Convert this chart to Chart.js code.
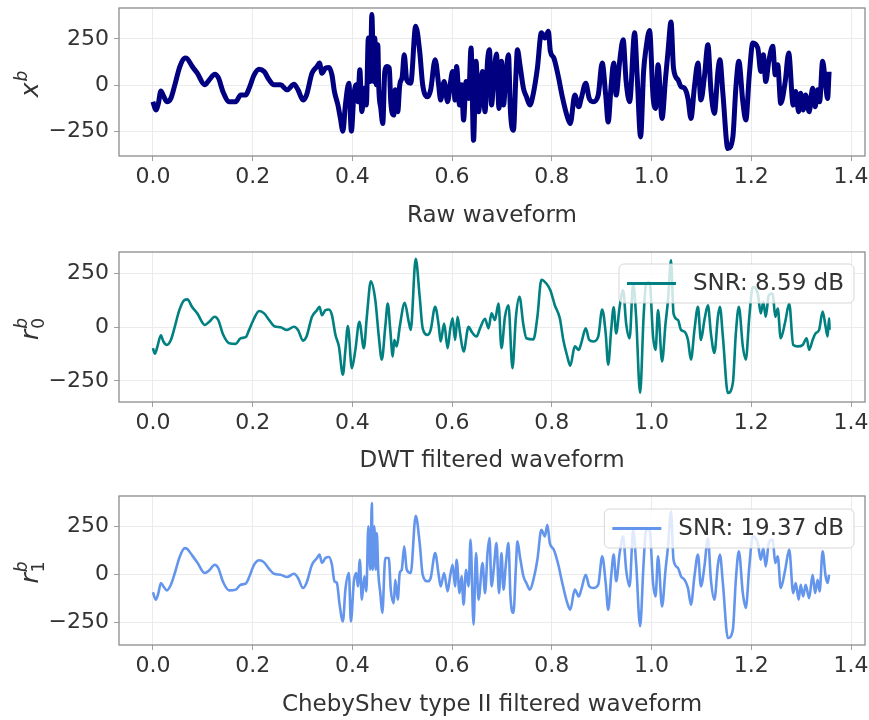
<!DOCTYPE html>
<html>
<head>
<meta charset="utf-8">
<script src="https://cdn.jsdelivr.net/npm/chart.js@4/dist/chart.umd.min.js"></script>
<style>
  body { margin: 0; background: #fff; }
  .panel { position: absolute; left: 0; width: 869px; height: 240px; }
</style>
</head>
<body>
<div class="panel" style="top:0px"><canvas id="raw" width="869" height="240"></canvas></div>
<div class="panel" style="top:240px"><canvas id="dwt" width="869" height="240"></canvas></div>
<div class="panel" style="top:480px"><canvas id="cheb" width="869" height="240"></canvas></div>
<script>
// values (time in s, amplitude)
const rawTime = [0,0.006,0.011,0.016,0.021,0.028,0.036,0.044,0.054,0.064,0.069,0.079,0.089,0.104,0.113,0.124,0.131,0.141,0.153,0.166,0.176,0.186,0.193,0.203,0.213,0.223,0.233,0.243,0.256,0.269,0.283,0.291,0.301,0.308,0.319,0.329,0.334,0.339,0.346,0.353,0.359,0.364,0.371,0.376,0.381,0.386,0.393,0.398,0.403,0.408,0.411,0.415,0.419,0.424,0.428,0.432,0.436,0.439,0.443,0.445,0.448,0.451,0.453,0.457,0.461,0.465,0.469,0.474,0.477,0.483,0.486,0.491,0.495,0.500,0.504,0.509,0.517,0.527,0.535,0.541,0.551,0.557,0.566,0.573,0.577,0.584,0.591,0.596,0.601,0.606,0.609,0.615,0.619,0.623,0.628,0.633,0.638,0.643,0.648,0.653,0.661,0.666,0.671,0.675,0.679,0.684,0.689,0.694,0.699,0.703,0.708,0.713,0.717,0.723,0.728,0.731,0.736,0.743,0.749,0.756,0.763,0.771,0.779,0.786,0.793,0.797,0.804,0.813,0.821,0.831,0.837,0.846,0.854,0.859,0.868,0.875,0.883,0.893,0.901,0.908,0.913,0.919,0.924,0.929,0.936,0.943,0.949,0.956,0.966,0.971,0.978,0.984,0.989,0.996,1.003,1.008,1.013,1.021,1.028,1.033,1.039,1.044,1.053,1.059,1.066,1.073,1.079,1.086,1.093,1.099,1.106,1.113,1.119,1.126,1.133,1.137,1.143,1.153,1.163,1.169,1.175,1.183,1.189,1.196,1.203,1.213,1.219,1.224,1.229,1.235,1.243,1.248,1.253,1.259,1.268,1.275,1.284,1.289,1.295,1.299,1.304,1.309,1.316,1.323,1.328,1.333,1.337,1.343,1.349,1.353,1.356];
const rawValues = [-89,-134,-98,-31,-56,-89,-71,2,101,147,143,101,65,2,29,60,42,-38,-89,-89,-53,-53,-16,56,87,74,29,2,2,-25,5,-25,-80,-53,65,101,120,65,92,96,56,-34,-107,-179,-248,-107,11,-248,-53,2,-89,83,-143,-16,-107,255,20,382,20,255,2,219,-16,-125,-207,74,101,92,-89,-161,-25,-143,2,47,165,29,11,319,183,2,-62,-25,138,2,-80,20,-89,2,74,-80,101,-107,2,-188,20,-71,201,-297,129,-143,74,-143,129,192,-107,56,169,-125,129,-107,56,165,-143,-243,56,192,111,-16,-62,-107,-43,92,283,255,292,183,147,47,-62,-170,-207,-53,-116,-71,11,-71,-89,-53,120,-53,-198,2,120,-53,129,246,20,-89,283,56,-279,74,201,295,-62,-125,111,-179,38,183,342,92,29,-7,-16,-71,-179,-7,120,-80,47,219,-25,-152,74,138,-43,-342,-279,-16,129,-89,-188,56,228,201,74,165,20,129,210,56,111,-98,20,174,-107,-34,-143,-43,-134,-53,-143,-16,-116,-25,-89,129,2,-71,74];

const dwtTime = [0,0.004,0.009,0.016,0.021,0.028,0.036,0.043,0.053,0.063,0.069,0.079,0.089,0.104,0.113,0.124,0.131,0.141,0.153,0.166,0.176,0.186,0.193,0.203,0.213,0.223,0.233,0.243,0.256,0.269,0.283,0.291,0.301,0.308,0.319,0.329,0.334,0.339,0.346,0.353,0.359,0.366,0.373,0.381,0.386,0.391,0.399,0.406,0.414,0.423,0.429,0.437,0.446,0.453,0.459,0.466,0.471,0.476,0.481,0.484,0.489,0.495,0.505,0.513,0.517,0.527,0.535,0.541,0.551,0.557,0.566,0.573,0.577,0.584,0.591,0.596,0.601,0.606,0.611,0.616,0.623,0.633,0.639,0.649,0.656,0.666,0.673,0.679,0.686,0.693,0.699,0.706,0.713,0.721,0.728,0.735,0.743,0.749,0.763,0.771,0.779,0.789,0.797,0.806,0.816,0.823,0.831,0.837,0.846,0.854,0.859,0.868,0.875,0.883,0.893,0.901,0.908,0.913,0.919,0.924,0.929,0.936,0.943,0.949,0.956,0.963,0.969,0.977,0.984,0.989,0.996,1.003,1.008,1.013,1.021,1.028,1.033,1.039,1.044,1.053,1.059,1.066,1.073,1.079,1.086,1.093,1.099,1.106,1.113,1.119,1.126,1.133,1.137,1.143,1.153,1.163,1.169,1.175,1.183,1.189,1.196,1.203,1.213,1.219,1.224,1.229,1.235,1.243,1.248,1.253,1.259,1.268,1.276,1.284,1.293,1.303,1.311,1.316,1.323,1.329,1.336,1.343,1.349,1.353,1.356,1.357];
const dwtValues = [-97,-123,-90,-37,-66,-82,-59,-5,80,127,130,93,65,11,26,49,34,-35,-74,-77,-51,-46,-12,42,76,65,34,6,0,-12,3,-12,-62,-43,49,80,96,57,80,83,57,-35,-89,-221,-105,6,-190,-105,26,-97,49,214,127,-43,-151,3,111,-12,-136,-59,-89,3,114,26,-12,319,142,-5,-35,-12,96,11,-66,18,-97,-12,42,-59,49,-28,-113,3,-20,-43,-5,40,-5,65,34,111,-97,49,103,-190,49,142,11,-51,-56,49,222,204,173,103,42,-59,-136,-179,-89,-105,-74,-5,-59,-66,-43,83,-28,-174,-12,93,-28,96,173,18,-51,204,49,-306,49,204,211,-43,-105,80,-159,18,127,312,65,34,-12,-20,-59,-151,-12,96,-59,34,103,-28,-120,49,96,-43,-306,-259,-28,96,-89,-151,49,188,157,65,119,49,150,157,49,88,-51,26,111,-82,-89,-82,-51,-105,-59,-28,-12,73,3,-43,42,-12];

const chebTime = [0,0.006,0.011,0.016,0.021,0.028,0.036,0.044,0.054,0.064,0.069,0.079,0.089,0.104,0.113,0.124,0.131,0.141,0.153,0.166,0.176,0.186,0.193,0.203,0.213,0.223,0.233,0.243,0.256,0.269,0.283,0.291,0.301,0.308,0.319,0.329,0.334,0.339,0.346,0.353,0.359,0.364,0.369,0.374,0.381,0.386,0.393,0.397,0.403,0.408,0.411,0.415,0.419,0.424,0.428,0.432,0.436,0.439,0.441,0.444,0.447,0.449,0.452,0.456,0.460,0.466,0.473,0.477,0.483,0.486,0.491,0.495,0.499,0.504,0.509,0.517,0.527,0.535,0.541,0.551,0.557,0.566,0.573,0.577,0.584,0.591,0.596,0.601,0.606,0.609,0.615,0.619,0.623,0.628,0.633,0.637,0.643,0.648,0.653,0.661,0.666,0.671,0.675,0.679,0.684,0.689,0.694,0.699,0.703,0.708,0.713,0.717,0.723,0.728,0.731,0.736,0.743,0.749,0.756,0.763,0.771,0.779,0.786,0.791,0.796,0.804,0.813,0.821,0.831,0.837,0.846,0.854,0.859,0.868,0.875,0.883,0.893,0.901,0.908,0.913,0.919,0.924,0.929,0.936,0.943,0.949,0.956,0.963,0.969,0.977,0.984,0.989,0.996,1.003,1.008,1.013,1.021,1.028,1.033,1.039,1.044,1.053,1.059,1.066,1.073,1.079,1.086,1.093,1.099,1.106,1.113,1.119,1.126,1.133,1.137,1.143,1.153,1.163,1.169,1.175,1.183,1.189,1.196,1.203,1.213,1.219,1.224,1.229,1.235,1.243,1.248,1.253,1.259,1.268,1.276,1.284,1.289,1.295,1.299,1.304,1.309,1.316,1.323,1.328,1.333,1.337,1.343,1.349,1.353,1.356];
const chebValues = [-93,-131,-97,-45,-62,-83,-54,7,93,136,131,97,62,7,21,50,33,-41,-83,-79,-54,-48,-14,50,73,62,28,3,-2,-14,3,-19,-71,-45,50,85,102,59,85,90,50,-36,-45,-149,-244,-79,7,-244,-36,7,-62,76,-131,-10,-88,249,24,370,24,249,24,214,7,-97,-200,85,85,-79,-149,-28,-131,7,24,145,24,7,304,162,-2,-36,-19,110,-2,-62,7,-88,-10,50,-62,76,-97,-10,-157,24,-62,180,-261,110,-131,59,-97,110,188,-62,41,162,-97,110,-79,59,162,-114,-200,41,171,93,-10,-45,-79,-28,76,231,197,257,162,128,50,-45,-149,-183,-79,-114,-79,-2,-62,-71,-54,93,-45,-183,-10,102,-36,110,197,24,-62,231,59,-269,59,231,231,-45,-114,93,-166,24,145,326,76,33,-10,-28,-71,-157,-10,102,-62,41,188,-28,-131,50,102,-45,-330,-287,-28,119,-97,-174,41,197,162,76,136,41,162,180,59,93,-71,24,128,-97,-45,-131,-54,-114,-54,-123,-2,-97,-28,-88,119,-10,-45,-2];

const xTickValues = [0, 0.2, 0.4, 0.6, 0.8, 1.0, 1.2, 1.4];
const yTickValues = [-250, 0, 250];
const xTitles = ['Raw waveform', 'DWT filtered waveform', 'ChebyShev type II filtered waveform'];
const seriesLabels = ['Raw', 'SNR: 8.59 dB', 'SNR: 19.37 dB'];

const FONT = '"DejaVu Sans"';
const TEXT = '#333333';
Chart.defaults.font.family = FONT;

const framePlugin = {
	id: 'frame',
	afterDatasetsDraw(chart, args, opts) {
		const {ctx, chartArea: a} = chart;
		ctx.save();
		ctx.strokeStyle = '#8c8c8c';
		ctx.lineWidth = 1.3;
		ctx.strokeRect(a.left, a.top, a.right - a.left, a.bottom - a.top);

		if (opts.legendTop !== undefined) {
			const label = chart.data.datasets[0].label;
			ctx.font = '23px ' + FONT;
			const tw = ctx.measureText(label).width;
			const right = 854, h = 39, top = opts.legendTop;
			const left = right - 10 - tw - 74;
			ctx.beginPath();
			ctx.roundRect(left, top, right - left, h, 5);
			ctx.fillStyle = 'rgba(255,255,255,0.8)';
			ctx.fill();
			ctx.strokeStyle = 'rgba(210,210,210,0.9)';
			ctx.lineWidth = 1;
			ctx.stroke();
			ctx.beginPath();
			ctx.moveTo(left + 8, top + h / 2);
			ctx.lineTo(left + 57, top + h / 2);
			ctx.strokeStyle = chart.data.datasets[0].borderColor;
			ctx.lineWidth = 3;
			ctx.stroke();
			ctx.fillStyle = TEXT;
			ctx.textBaseline = 'middle';
			ctx.fillText(label, left + 74, top + h / 2 + 1);
		}

		// y title in math style: base, subscript, superscript
		const t = opts.yTitle;
		const cy = (a.top + a.bottom) / 2 + 2;
		ctx.translate(38, cy);
		ctx.rotate(-Math.PI / 2);
		ctx.fillStyle = TEXT;
		ctx.textBaseline = 'alphabetic';
		ctx.font = 'italic 25px ' + FONT;
		const wb = ctx.measureText(t.base).width;
		ctx.font = 'italic 17px ' + FONT;
		const ws = Math.max(ctx.measureText(t.sup).width, t.sub ? ctx.measureText(t.sub).width : 0);
		const x0 = -(wb + ws + 1) / 2;
		ctx.font = 'italic 25px ' + FONT;
		ctx.fillText(t.base, x0, 0);
		ctx.font = 'italic 17px ' + FONT;
		ctx.fillText(t.sup, x0 + wb + 1, -11);
		if (t.sub) {
			ctx.font = '17px ' + FONT;
			ctx.fillText(t.sub, x0 + wb + 1, 6);
		}
		ctx.restore();
	}
};

function makeChart(id, cfg) {
	const ctx = document.getElementById(id);
	return new Chart(ctx, {
		type: 'line',
		data: {
			datasets: [{
				label: cfg.label,
				data: cfg.time.map((t, i) => ({x: t, y: cfg.values[i]})),
				borderColor: cfg.color,
				borderWidth: cfg.width,
				pointRadius: 0,
				cubicInterpolationMode: 'monotone',
				fill: false
			}]
		},
		options: {
			responsive: false,
			animation: false,
			devicePixelRatio: 1,
			layout: { padding: { top: cfg.top, right: 4, left: 0, bottom: 0 } },
			plugins: {
				legend: { display: false },
				tooltip: { enabled: false },
				frame: { legendTop: cfg.legendTop, yTitle: cfg.yTitle }
			},
			scales: {
				x: {
					type: 'linear',
					min: -0.068,
					max: 1.428,
					afterBuildTicks: s => { s.ticks = xTickValues.map(v => ({value: v})); },
					afterFit: s => { s.height = 240 - cfg.bottom; s.paddingLeft = 0; s.paddingRight = 0; },
					ticks: {
						callback: v => v.toFixed(1),
						font: { size: 22 }, color: TEXT, padding: 3,
						maxRotation: 0, autoSkip: false
					},
					grid: { color: '#ebebeb', tickColor: '#a0a0a0', tickLength: 5 },
					border: { display: false },
					title: {
						display: true, text: cfg.xTitle, color: TEXT,
						font: { size: 23 }, padding: { top: 0, bottom: cfg.titlePad }
					}
				},
				y: {
					min: cfg.yMin,
					max: cfg.yMax,
					afterBuildTicks: s => { s.ticks = yTickValues.map(v => ({value: v})); },
					afterFit: s => { s.width = 119; s.paddingTop = 0; s.paddingBottom = 0; },
					ticks: {
						callback: v => v < 0 ? '\u2212' + Math.abs(v) : String(v),
						font: { size: 22 }, color: TEXT, padding: 5
					},
					grid: { color: '#ebebeb', tickColor: '#a0a0a0', tickLength: 5 },
					border: { display: false }
				}
			}
		},
		plugins: [framePlugin]
	});
}

makeChart('raw', {
	label: seriesLabels[0], time: rawTime, values: rawValues, color: '#000080', width: 5,
	top: 8, bottom: 156, titlePad: 10, yMin: -382, yMax: 417, xTitle: xTitles[0],
	yTitle: {base: 'x', sup: 'b'}
});
makeChart('dwt', {
	label: seriesLabels[1], time: dwtTime, values: dwtValues, color: '#008080', width: 2.6,
	top: 12, bottom: 162, titlePad: 5, yMin: -348, yMax: 351, xTitle: xTitles[1],
	legendTop: 24, yTitle: {base: 'r', sub: '0', sup: 'b'}
});
makeChart('cheb', {
	label: seriesLabels[2], time: chebTime, values: chebValues, color: '#6495ED', width: 2.6,
	top: 16, bottom: 165, titlePad: 1, yMin: -366, yMax: 406, xTitle: xTitles[2],
	legendTop: 29, yTitle: {base: 'r', sub: '1', sup: 'b'}
});
</script>
</body>
</html>
